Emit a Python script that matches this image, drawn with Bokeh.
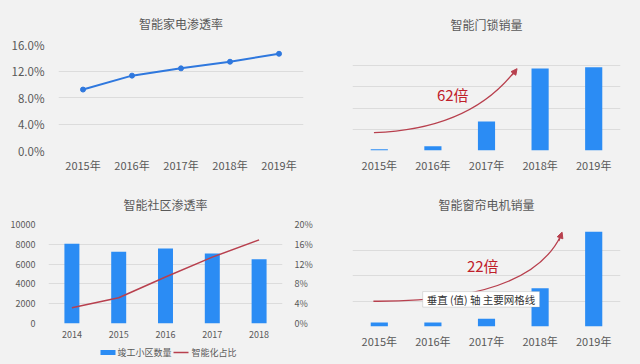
from bokeh.plotting import figure
from bokeh.layouts import column, row
from bokeh.models import (FactorRange, Range1d, LinearAxis, FixedTicker, Label,
                          Arrow, NormalHead, CustomJSTickFormatter, BoxAnnotation)
from bokeh.embed import file_html
from bokeh.resources import INLINE

# ---------------- data ----------------
years_a = ["2015年", "2016年", "2017年", "2018年", "2019年"]
appliance_rate = [9.2, 11.3, 12.4, 13.4, 14.6]          # %

lock_sales = [6.3, 20, 137, 387, 393]                    # relative units

years_c = ["2014", "2015", "2016", "2017", "2018"]
completed_communities = [8050, 7240, 7580, 7070, 6500]
smart_share = [3.2, 5.2, 9.4, 13.4, 16.9]               # %

curtain_sales = [16, 16, 30, 150, 372]                   # relative units

legend_labels = ["竣工小区数量", "智能化占比"]

# ---------------- style ----------------
BG = "#f2f2f2"
BLUE = "#2b8cf4"
LINE_BLUE = "#2f78de"
RED = "#c0202a"
LINE_RED = "#b8404e"
GRID = "#dcdcdc"
TXT = "#595959"
FONT = "Noto Sans CJK SC"


def base(title, w, h, xr, yr, left, right, top, bottom, standoff):
    p = figure(width=w, height=h, x_range=xr, y_range=yr, output_backend="svg",
               toolbar_location=None, min_border_left=left, min_border_right=right,
               min_border_top=top, min_border_bottom=bottom)
    p.background_fill_color = BG
    p.border_fill_color = BG
    p.outline_line_color = None
    p.title.text = title
    p.title.align = "center"
    p.title.standoff = standoff
    p.title.text_font = FONT
    p.title.text_font_size = "12px"
    p.title.text_font_style = "normal"
    p.title.text_color = TXT
    p.xgrid.grid_line_color = None
    p.ygrid.grid_line_color = GRID
    p.xaxis.axis_line_color = None
    p.xaxis.major_tick_line_color = None
    p.xaxis.minor_tick_line_color = None
    p.xaxis.major_label_text_font = FONT
    p.xaxis.major_label_text_color = TXT
    p.xaxis.major_label_text_font_size = "11px"
    p.xaxis.major_label_standoff = 0
    p.yaxis.axis_line_color = None
    p.yaxis.major_tick_line_color = None
    p.yaxis.minor_tick_line_color = None
    p.yaxis.major_label_text_font = FONT
    p.yaxis.major_label_text_color = TXT
    p.yaxis.major_label_text_font_size = "11px"
    return p


# ---- top-left: line ----
p1 = base("智能家电渗透率", 320, 182, FactorRange(*years_a, range_padding=0),
          Range1d(0, 16), 58, 17, 43, 32, 25)
p1.yaxis.ticker = FixedTicker(ticks=[0, 4, 8, 12, 16])
p1.yaxis.formatter = CustomJSTickFormatter(code="return tick.toFixed(1) + '%';")
p1.yaxis.major_label_standoff = 8
p1.yaxis.major_label_text_font_size = "11.5px"
p1.line(years_a, appliance_rate, line_color=LINE_BLUE, line_width=2)
p1.scatter(years_a, appliance_rate, size=5, fill_color=LINE_BLUE, line_color=LINE_BLUE)

# ---- top-right: bars ----
p2 = base("智能门锁销量", 320, 182, FactorRange(*years_a, range_padding=0),
          Range1d(0, 500), 32, 20, 41, 32, 23)
p2.yaxis.visible = False
p2.ygrid.ticker = FixedTicker(ticks=[0, 100, 200, 300, 400, 500])
p2.vbar(x=years_a, top=lock_sales, width=0.32, fill_color=BLUE, line_color=None)
p2.quadratic(x0=[0.40], y0=[84], x1=[3.04], y1=[378], cx=[2.2], cy=[100],
             line_color=LINE_RED, line_width=1.3)
p2.add_layout(Arrow(end=NormalHead(size=6, fill_color=LINE_RED, line_color=LINE_RED),
                    x_start=2.98, y_start=356, x_end=3.07, y_end=386,
                    line_color=LINE_RED, line_width=1.3))
p2.add_layout(Label(x=1.87, y=266, text="62倍", text_font=FONT, text_font_size="15px",
                    text_color=RED, text_align="center", text_baseline="middle"))

# ---- bottom-left: combo ----
p3 = base("智能社区渗透率", 320, 160, FactorRange(*years_c, range_padding=0),
          Range1d(0, 10000), 48, 38, 42, 19, 23)
p3.yaxis.ticker = FixedTicker(ticks=[0, 2000, 4000, 6000, 8000, 10000])
p3.yaxis.major_label_text_font_size = "9px"
p3.xaxis.major_label_text_font_size = "9px"
p3.yaxis.major_label_standoff = 7
p3.xaxis.major_label_standoff = 1
p3.extra_y_ranges = {"pct": Range1d(0, 20)}
ax2 = LinearAxis(y_range_name="pct", ticker=FixedTicker(ticks=[0, 4, 8, 12, 16, 20]),
                 formatter=CustomJSTickFormatter(code="return tick + '%';"))
ax2.axis_line_color = None
ax2.major_tick_line_color = None
ax2.minor_tick_line_color = None
ax2.major_label_text_font = FONT
ax2.major_label_text_color = TXT
ax2.major_label_text_font_size = "9px"
ax2.major_label_standoff = 6
p3.add_layout(ax2, "right")
p3.vbar(x=years_c, top=completed_communities, width=0.32, fill_color=BLUE, line_color=None)
p3.line(years_c, smart_share, y_range_name="pct", line_color=LINE_RED, line_width=1.5)

# legend strip under the combo chart (its frame is aligned with the chart's frame;
# x units = page pixels)
pl = figure(width=320, height=22, x_range=Range1d(48, 282), y_range=Range1d(0, 22),
            output_backend="svg", toolbar_location=None, x_axis_type=None, y_axis_type=None,
            min_border_left=0, min_border_right=0, min_border_top=0, min_border_bottom=0)
pl.background_fill_color = BG
pl.border_fill_color = BG
pl.outline_line_color = None
pl.grid.visible = False
pl.add_layout(BoxAnnotation(left=100, right=115, bottom=9.5, top=14.5,
                            fill_color=BLUE, fill_alpha=1.0, line_color=None))
pl.add_layout(Label(x=117, y=12, text=legend_labels[0], text_font=FONT,
                    text_font_size="9px", text_color=TXT, text_baseline="middle"))
pl.add_layout(BoxAnnotation(left=173, right=188, bottom=11.2, top=12.8,
                            fill_color=LINE_RED, fill_alpha=1.0, line_color=None))
pl.add_layout(Label(x=191, y=12, text=legend_labels[1], text_font=FONT,
                    text_font_size="9px", text_color=TXT, text_baseline="middle"))

# ---- bottom-right: bars ----
p4 = base("智能窗帘电机销量", 320, 182, FactorRange(*years_a, range_padding=0),
          Range1d(0, 400), 32, 20, 39, 38, 23)
p4.yaxis.visible = False
p4.ygrid.ticker = FixedTicker(ticks=[0, 100, 200, 300, 400])
p4.vbar(x=years_a, top=curtain_sales, width=0.32, fill_color=BLUE, line_color=None)
p4.quadratic(x0=[0.39], y0=[99], x1=[3.89], y1=[358], cx=[3.3], cy=[95],
             line_color=LINE_RED, line_width=1.3)
p4.add_layout(Arrow(end=NormalHead(size=6, fill_color=LINE_RED, line_color=LINE_RED),
                    x_start=3.85, y_start=335, x_end=3.91, y_end=370,
                    line_color=LINE_RED, line_width=1.3))
p4.add_layout(Label(x=2.43, y=240, text="22倍", text_font=FONT, text_font_size="15px",
                    text_color=RED, text_align="center", text_baseline="middle"))
p4.add_layout(BoxAnnotation(left=1.31, right=3.49, bottom=76, top=137,
                            fill_color="white", fill_alpha=1.0,
                            line_color="#9a9a9a", line_width=1))
p4.add_layout(Label(x=1.31, y=106, x_offset=4, text="垂直 (值) 轴 主要网格线", text_font=FONT,
                    text_font_size="10.5px", text_color="#333333", text_align="left",
                    text_baseline="middle"))

layout = column(row(p1, p2, spacing=0),
                row(column(p3, pl, spacing=0), p4, spacing=0),
                spacing=0)

html = file_html(layout, INLINE)
html = html.replace("<head>", "<head><style>html,body{background:#f2f2f2;}</style>", 1)
open("out.html", "w").write(html)
